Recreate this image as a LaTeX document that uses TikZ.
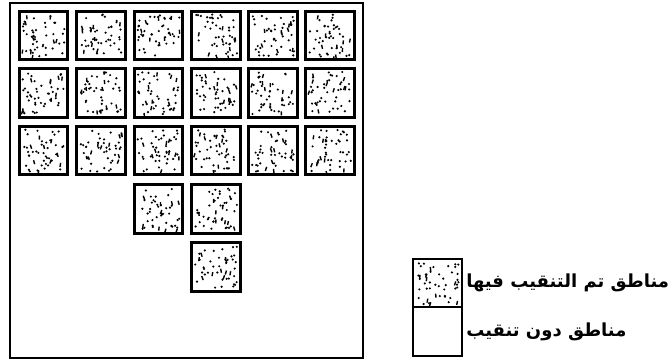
\documentclass[tikz,border=0pt]{standalone}
\usepackage{fontspec}
\newfontfamily\arabicfont[Script=Arabic]{DejaVu Sans}
\TeXXeTstate=1
\usetikzlibrary{positioning}

\tikzset{
  site/.style={draw,line width=1.4pt,minimum width=353,minimum height=355,inner sep=0pt},
  grain/.style={path picture={
    \foreach \k in {1,...,38}{
      \fill ([shift={(rand*21,rand*21)}]path picture bounding box.center) circle (1.2);}
    \foreach \k in {1,...,9}{
      \draw[line width=1.4pt] ([shift={(rand*21,rand*21)}]path picture bounding box.center) -- ++(rand*1.5,4);}
  }},
  pit/.style={draw,line width=2.6pt,minimum size=48.5,inner sep=0pt,grain},
  keybox/.style={draw,line width=1.6pt,minimum width=49.5,minimum height=47.5,inner sep=0pt},
  keytext/.style={anchor=west,inner sep=0pt,font=\arabicfont\bfseries\fontsize{18}{20}\selectfont}
}

\begin{document}
\begin{tikzpicture}[x=1pt,y=-1pt]
\pgfmathsetseed{41}
\path[use as bounding box] (0,0) rectangle (672,361);
\node[site] (site) at (186.5,180.5) {};
% dug squares, row by row
\node[pit] (p11) at (43.5,35.5) {};
\node[pit] (p12) at (101,35.5) {};
\node[pit] (p13) at (158.5,35.5) {};
\node[pit] (p14) at (216,35.5) {};
\node[pit] (p15) at (273,35.5) {};
\node[pit] (p16) at (330,35.5) {};
\node[pit] (p21) at (43.5,93) {};
\node[pit] (p22) at (101,93) {};
\node[pit] (p23) at (158.5,93) {};
\node[pit] (p24) at (216,93) {};
\node[pit] (p25) at (273,93) {};
\node[pit] (p26) at (330,93) {};
\node[pit] (p31) at (43.5,150.5) {};
\node[pit] (p32) at (101,150.5) {};
\node[pit] (p33) at (158.5,150.5) {};
\node[pit] (p34) at (216,150.5) {};
\node[pit] (p35) at (273,150.5) {};
\node[pit] (p36) at (330,150.5) {};
\node[pit] (p43) at (158.5,209) {};
\node[pit] (p44) at (216,209) {};
\node[pit] (p54) at (216,267) {};
% legend
\node[keybox,grain] (keydug) at (437.5,283) {};
\node[keybox,minimum height=49] (keyplain) at (437.5,331.5) {};
\node[keytext] (dugtext) at ([xshift=3]keydug.east) {\beginR مناطق تم التنقيب فيها\endR};
\node[keytext] (plaintext) at ([xshift=3]keyplain.east) {\beginR مناطق دون تنقيب\endR};
\end{tikzpicture}
\end{document}
